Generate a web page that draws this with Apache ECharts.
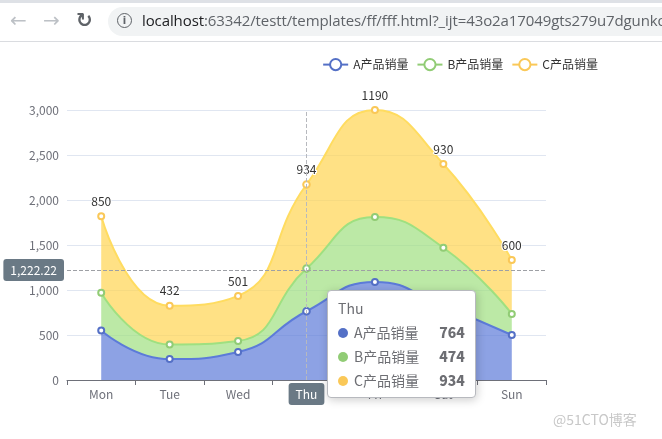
<!DOCTYPE html>
<html>
<head>
<meta charset="utf-8">
<script src="https://cdn.jsdelivr.net/npm/echarts@6/dist/echarts.min.js"></script>
<style>
html,body{margin:0;padding:0;background:#fff;width:662px;height:439px;overflow:hidden;}
#chart{position:absolute;left:0;top:0;width:662px;height:439px;}
#bar{position:absolute;left:0;top:0;width:662px;height:41px;background:#fff;border-bottom:1px solid #dadce0;z-index:5;}
#strip{position:absolute;left:0;top:0;width:662px;height:3px;background:#dee1e6;}
.nav{position:absolute;top:9px;font-family:"DejaVu Sans",sans-serif;font-size:20px;line-height:22px;}
#pill{position:absolute;left:108px;top:7px;width:600px;height:29px;border-radius:15px;background:#f1f3f4;}
#info{position:absolute;left:117px;top:13px;width:13px;height:13px;border:1.5px solid #5f6368;border-radius:50%;font:bold 10px "DejaVu Sans",sans-serif;color:#5f6368;text-align:center;line-height:13px;}
#url{position:absolute;left:142px;top:10px;font-family:"Open Sans","Noto Sans",sans-serif;font-size:15px;line-height:20px;color:#5f6368;white-space:nowrap;letter-spacing:-0.1px;}
#url b{font-weight:normal;color:#202124;}
#wm{position:absolute;left:553px;top:409px;font-family:"Noto Sans CJK SC",sans-serif;font-size:14px;color:#c8c8c8;z-index:5;}
</style>
</head>
<body>
<div id="chart"></div>
<div id="bar">
  <div id="strip"></div>
  <div class="nav" style="left:10px;color:#bdc1c6;">&#8592;</div>
  <div class="nav" style="left:43px;color:#bdc1c6;">&#8594;</div>
  <div class="nav" style="left:76px;color:#5f6368;font-weight:bold;">&#8635;</div>
  <div id="pill"></div>
  <div id="info">i</div>
  <div id="url"><b>localhost</b>:63342/testt/templates/ff/fff.html?_ijt=43o2a17049gts279u7dgunkqr</div>
</div>
<div id="wm">@51CTO博客</div>
<script>
var categories = ['Mon', 'Tue', 'Wed', 'Thu', 'Fri', 'Sat', 'Sun'];
var seriesNames = ['A产品销量', 'B产品销量', 'C产品销量'];
var aValues = [550, 232, 311, 764, 1090, 820, 500];
var bValues = [420, 162, 122, 474, 720, 650, 233];
var cValues = [850, 432, 501, 934, 1190, 930, 600];
var yTicks = [0, 500, 1000, 1500, 2000, 2500, 3000];
var pointerValue = 1222.22;
var pointerCategory = 'Thu';

var font = '"Noto Sans CJK SC", "Microsoft YaHei", sans-serif';
var chart = echarts.init(document.getElementById('chart'), null, {renderer: 'canvas'});
var dataLists = [aValues, bValues, cValues];
var areaColors = ['#5470c6', '#91cc75', '#f9c14a'];
var option = {
  animation: false,
  color: ['#5470c6', '#91cc75', '#fac858'],
  textStyle: {fontFamily: font},
  legend: {
    data: seriesNames,
    right: 59,
    top: 53,
    textStyle: {fontFamily: font, fontSize: 12, color: '#333'}
  },
  tooltip: {
    trigger: 'axis',
    axisPointer: {type: 'cross', label: {backgroundColor: '#6a7985', precision: 2}},
    textStyle: {fontFamily: font}
  },
  grid: {left: 67, right: 116, top: 110, bottom: 59, containLabel: false},
  xAxis: {
    type: 'category',
    boundaryGap: true,
    data: categories,
    axisLine: {show: true, lineStyle: {color: '#6e7079'}},
    axisTick: {show: true, alignWithLabel: false, length: 5, lineStyle: {color: '#6e7079'}},
    axisLabel: {fontFamily: font, fontSize: 12, color: '#6e7079'}
  },
  yAxis: {
    type: 'value',
    min: yTicks[0],
    max: yTicks[yTicks.length - 1],
    interval: yTicks[1] - yTicks[0],
    axisLabel: {fontFamily: font, fontSize: 12, color: '#6e7079'},
    splitLine: {lineStyle: {color: '#e0e6f1'}}
  },
  series: seriesNames.map(function (name, i) {
    var s = {
      name: name,
      type: 'line',
      stack: 'total',
      smooth: true,
      areaStyle: {color: areaColors[i], opacity: 0.7},
      emphasis: {focus: 'none'},
      data: dataLists[i]
    };
    if (i === 2) {
      s.label = {show: true, position: 'top', color: '#333', fontSize: 12,
                 textBorderColor: '#fff', textBorderWidth: 2, fontFamily: font};
    }
    return s;
  })
};
chart.setOption(option);
var px = chart.convertToPixel({gridIndex: 0}, [pointerCategory, pointerValue]);
chart.dispatchAction({type: 'showTip', x: px[0], y: px[1]});
</script>
</body>
</html>
